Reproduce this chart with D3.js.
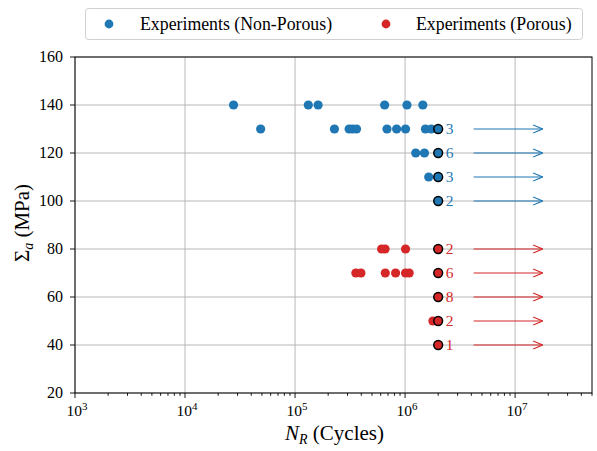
<!DOCTYPE html>
<html>
<head>
<meta charset="utf-8">
<script src="https://cdn.jsdelivr.net/npm/d3@7/dist/d3.min.js"></script>
<style>
  html, body { margin: 0; padding: 0; background: #fff; }
  svg { display: block; }
  text { font-family: "Liberation Serif", "DejaVu Serif", serif; }
</style>
</head>
<body>
<svg id="chart" width="597" height="451"></svg>
<script>
// Non-porous specimens: failures [cycles, stress amplitude]
const nonPorousFailures = [
  [27600, 140], [132000, 140], [162000, 140], [652000, 140], [1040000, 140], [1450000, 140],
  [48700, 130], [228000, 130], [310000, 130], [333000, 130], [362000, 130], [685000, 130],
  [838000, 130], [1010000, 130], [1530000, 130], [1730000, 130],
  [1250000, 120], [1500000, 120],
  [1640000, 110]
];
// Non-porous run-outs: stress level and number of specimens
const nonPorousRunoutLevels = [130, 120, 110, 100];
const nonPorousRunoutCounts = [3, 6, 3, 2];

// Porous specimens: failures [cycles, stress amplitude]
const porousFailures = [
  [612000, 80], [658000, 80], [1010000, 80],
  [357000, 70], [397000, 70], [661000, 70], [820000, 70], [1010000, 70], [1090000, 70],
  [1790000, 50]
];
const porousRunoutLevels = [80, 70, 60, 50, 40];
const porousRunoutCounts = [2, 6, 8, 2, 1];

const runoutCycles = 2e6;
const arrowStart = 4.2e6;
const arrowEnd = 1.78e7;

const yTicks = [20, 40, 60, 80, 100, 120, 140, 160];
const xTickExponents = [3, 4, 5, 6, 7];

const blue = "#1f77b4", red = "#d62728";

const svg = d3.select("#chart");
const m = { left: 75, right: 592, top: 57, bottom: 393 };

const x = d3.scaleLog().domain([1e3, 5e7]).range([m.left, m.right]);
const y = d3.scaleLinear().domain([20, 160]).range([m.bottom, m.top]);

// grid
const grid = svg.append("g").attr("stroke", "#b0b0b0").attr("stroke-width", 0.9);
xTickExponents.forEach(e => {
  const v = Math.pow(10, e);
  grid.append("line").attr("x1", x(v)).attr("x2", x(v)).attr("y1", m.top).attr("y2", m.bottom);
});
yTicks.forEach(v => {
  grid.append("line").attr("x1", m.left).attr("x2", m.right).attr("y1", y(v)).attr("y2", y(v));
});

// open arrowheads for the run-out arrows
const defs = svg.append("defs");
[["arrowBlue", blue], ["arrowRed", red]].forEach(([id, c]) => {
  defs.append("marker").attr("id", id)
    .attr("viewBox", "0 0 10 10").attr("refX", 9.5).attr("refY", 5)
    .attr("markerWidth", 10).attr("markerHeight", 10).attr("markerUnits", "userSpaceOnUse")
    .attr("orient", "auto")
    .append("path").attr("d", "M0,1 L9.5,5 L0,9")
    .attr("fill", "none").attr("stroke", c).attr("stroke-width", 1.2);
});

function drawSeries(failures, levels, counts, color, markerId) {
  const g = svg.append("g");
  g.selectAll("circle.fail").data(failures).join("circle")
    .attr("cx", d => x(d[0])).attr("cy", d => y(d[1])).attr("r", 4.6)
    .attr("fill", color);
  g.selectAll("circle.run").data(levels).join("circle")
    .attr("cx", x(runoutCycles)).attr("cy", d => y(d)).attr("r", 4.4)
    .attr("fill", color).attr("stroke", "#000").attr("stroke-width", 1.5);
  g.selectAll("text.count").data(levels).join("text")
    .attr("x", x(runoutCycles) + 7.5).attr("y", d => y(d) + 5)
    .attr("fill", color).attr("font-size", 15.5)
    .text((d, i) => counts[i]);
  g.selectAll("line.arrow").data(levels).join("line")
    .attr("x1", x(arrowStart)).attr("x2", x(arrowEnd))
    .attr("y1", d => y(d)).attr("y2", d => y(d))
    .attr("stroke", color).attr("stroke-width", 1.2)
    .attr("marker-end", `url(#${markerId})`);
}
drawSeries(nonPorousFailures, nonPorousRunoutLevels, nonPorousRunoutCounts, blue, "arrowBlue");
drawSeries(porousFailures, porousRunoutLevels, porousRunoutCounts, red, "arrowRed");

// axes frame
svg.append("rect").attr("x", m.left).attr("y", m.top)
  .attr("width", m.right - m.left).attr("height", m.bottom - m.top)
  .attr("fill", "none").attr("stroke", "#000").attr("stroke-width", 1);

// x ticks: major and minor
const axG = svg.append("g").attr("stroke", "#000").attr("stroke-width", 0.9);
for (let e = 3; e <= 7; e++) {
  for (let k = 1; k <= 9; k++) {
    const v = k * Math.pow(10, e);
    if (v > 5e7) break;
    const len = k === 1 ? 5 : 2.8;
    axG.append("line").attr("x1", x(v)).attr("x2", x(v))
      .attr("y1", m.bottom).attr("y2", m.bottom + len);
  }
}

xTickExponents.forEach(e => {
  const t = svg.append("text").attr("x", x(Math.pow(10, e)) + 2).attr("y", 416)
    .attr("text-anchor", "middle").attr("font-size", 15.5);
  t.append("tspan").text("10");
  t.append("tspan").attr("dy", -6.5).attr("font-size", 11).text(e);
});

yTicks.forEach(v => {
  axG.append("line").attr("x1", m.left - 5).attr("x2", m.left)
    .attr("y1", y(v)).attr("y2", y(v));
  svg.append("text").attr("x", m.left - 12).attr("y", y(v) + 5.2)
    .attr("text-anchor", "end").attr("font-size", 16).text(v);
});

// axis titles
const xl = svg.append("text").attr("x", (m.left + m.right) / 2 + 1).attr("y", 440)
  .attr("text-anchor", "middle").attr("font-size", 21);
xl.append("tspan").attr("font-style", "italic").text("N");
xl.append("tspan").attr("font-style", "italic").attr("font-size", 14).attr("dy", 4).text("R");
xl.append("tspan").attr("dy", -4).text(" (Cycles)");

const yl = svg.append("text")
  .attr("transform", `translate(29, ${(m.top + m.bottom) / 2 - 2}) rotate(-90)`)
  .attr("text-anchor", "middle").attr("font-size", 21);
yl.append("tspan").text("Σ");
yl.append("tspan").attr("font-style", "italic").attr("font-size", 14).attr("dy", 4).text("a");
yl.append("tspan").attr("dy", -4).text(" (MPa)");

// legend
const lg = svg.append("g");
lg.append("rect").attr("x", 85.5).attr("y", 8.5).attr("width", 497).attr("height", 31)
  .attr("rx", 3).attr("fill", "#fff").attr("stroke", "#d0d0d0").attr("stroke-width", 1);
const legendItems = [
  { label: "Experiments (Non-Porous)", color: blue, dotX: 109, textX: 140 },
  { label: "Experiments (Porous)", color: red, dotX: 386, textX: 416 }
];
legendItems.forEach(it => {
  lg.append("circle").attr("cx", it.dotX).attr("cy", 24).attr("r", 4.4).attr("fill", it.color);
  lg.append("text").attr("x", it.textX).attr("y", 30).attr("font-size", 17.8).text(it.label);
});
</script>
</body>
</html>
